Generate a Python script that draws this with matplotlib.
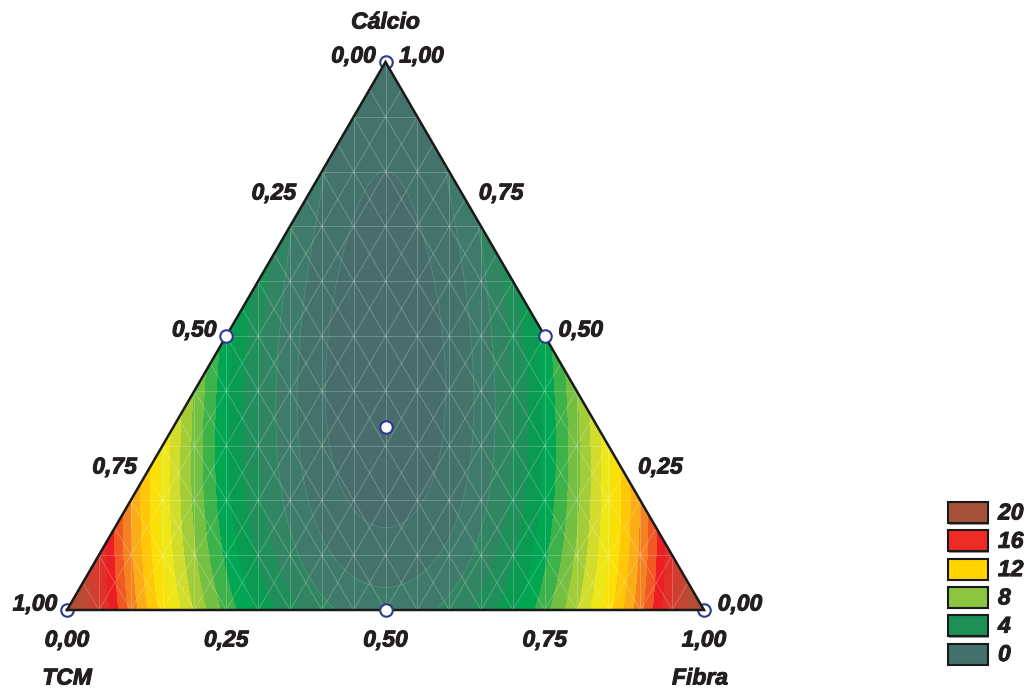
import matplotlib
matplotlib.use("Agg")
import matplotlib.pyplot as plt
import matplotlib.patheffects as pe
import matplotlib.tri as mtri
import numpy as np
from matplotlib.colors import LinearSegmentedColormap, Normalize
from matplotlib.patches import Rectangle

# mixture design (fractions) and observed response
tcm = [1.0, 0.0, 0.0, 0.5, 0.5, 0.0, 1 / 3]
fibra = [0.0, 1.0, 0.0, 0.5, 0.0, 0.5, 1 / 3]
calcio = [0.0, 0.0, 1.0, 0.0, 0.5, 0.5, 1 / 3]
resp = [22.0, 22.0, 0.5, 1.5, 5.5, 5.5, -0.8]

tick_vals = [0.0, 0.25, 0.5, 0.75, 1.0]
tick_text = ["0,00", "0,25", "0,50", "0,75", "1,00"]
legend_vals = [20, 16, 12, 8, 4, 0]
legend_cols = ["#a5523b", "#ee2b25", "#ffd400", "#8cc63f", "#1e8f55", "#43706a"]

# colour ramp for the filled contours (value -> colour)
ramp_vals = [-1.5, 0, 1.5, 3, 4.5, 5.5, 7, 8, 9.5, 11, 12, 13.5, 14.5, 15.5, 16.5, 18, 20, 22.5]
ramp_cols = ["#486c6f", "#466f6c", "#3f7b6a", "#2a8a5e", "#0a9a52", "#00a651",
             "#5bb848", "#8cc63f", "#d2dc2c", "#f8ec10", "#ffd400", "#fbb016",
             "#f58220", "#f15a24", "#ed1c24", "#d83a2c", "#b84a35", "#a5523b"]

H = np.sqrt(3) / 2


def to_xy(x2, x3):
    x2 = np.asarray(x2, dtype=float)
    x3 = np.asarray(x3, dtype=float)
    return x2 + x3 / 2, x3 * H


def design(a, b, c):
    a, b, c = (np.asarray(v, dtype=float) for v in (a, b, c))
    return np.column_stack([a, b, c, a * b, a * c, b * c, a * b * c])


def main() -> None:
    # special cubic Scheffe model fitted to the design points
    coef, *_ = np.linalg.lstsq(design(tcm, fibra, calcio), np.array(resp), rcond=None)

    n = 120
    ii, jj = np.meshgrid(np.arange(n + 1), np.arange(n + 1))
    keep = ii + jj <= n
    g2 = ii[keep] / n
    g3 = jj[keep] / n
    g1 = np.clip(1 - g2 - g3, 0, 1)
    z = design(g1, g2, g3) @ coef
    gx, gy = to_xy(g2, g3)
    tri = mtri.Triangulation(gx, gy)

    fig = plt.figure(figsize=(10.29, 6.88), dpi=100)
    ax = fig.add_axes([0, 0, 1, 1])
    sx = 637.0
    sy = 548.0 / H
    ax.set_xlim(-67 / sx, (1029 - 67) / sx)
    ax.set_ylim(-(688 - 610) / sy, 610 / sy)
    ax.axis("off")

    lo, hi = ramp_vals[0], ramp_vals[-1]
    pos = [(v - lo) / (hi - lo) for v in ramp_vals]
    cmap = LinearSegmentedColormap.from_list("mix", list(zip(pos, ramp_cols)))
    levels = np.arange(-2.0, 24.0, 1.0)
    ax.tricontourf(tri, z, levels=levels, cmap=cmap, norm=Normalize(lo, hi),
                   extend="both", zorder=2)
    ax.tricontour(tri, z, levels=levels[levels < 3], colors="white",
                  linewidths=0.5, alpha=0.15, zorder=2.5)

    # faint mesh lines
    gl = dict(color="white", lw=0.6, alpha=0.26, zorder=3)
    for c in np.arange(0.1, 1.0, 0.1):
        ax.plot([c / 2, 1 - c / 2], [c * H, c * H], **gl)
    for d in np.arange(0.05, 1.0, 0.05):
        xs, ys = to_xy([1 - d, 0], [0, 1 - d])
        ax.plot(xs, ys, **gl)
        xs, ys = to_xy([d, d], [0, 1 - d])
        ax.plot(xs, ys, **gl)
        ax.plot([d, d], [0, H * min(2 * d, 2 * (1 - d))], **gl)

    # triangle outline
    vx, vy = to_xy([0, 1, 0, 0], [0, 0, 1, 0])
    ax.plot(vx, vy, color="#1a1a1a", lw=1.8, zorder=4, solid_joinstyle="miter")

    # design points
    px, py = to_xy(fibra, calcio)
    corner = np.array([max(a, b, c) == 1.0 for a, b, c in zip(tcm, fibra, calcio)])
    mk = dict(marker="o", ms=9, mfc="white", mec="#2b3990", mew=1.5, ls="none")
    ax.plot(px[corner], py[corner], zorder=1.5, **mk)
    ax.plot(px[~corner], py[~corner], zorder=5, **mk)

    heavy = [pe.withStroke(linewidth=0.7, foreground="#231f20")]
    font = dict(family=["Liberation Sans", "DejaVu Sans"], fontsize=16.5,
                fontweight="bold", fontstyle="italic", color="#231f20",
                ha="center", va="center", textcoords="offset pixels",
                path_effects=heavy)

    for v, s in zip(tick_vals, tick_text):
        # left axis: TCM
        ax.annotate(s, to_xy(0, 1 - v), xytext=(-32, 6), **font)
        # right axis: Calcio
        ax.annotate(s, to_xy(1 - v, v), xytext=(36, 6), **font)
        # bottom axis: Fibra
        ax.annotate(s, to_xy(v, 0), xytext=(0, -30), **font)

    ax.annotate("Cálcio", to_xy(0, 1), xytext=(0, 40), **font)
    ax.annotate("TCM", to_xy(0, 0), xytext=(0, -68), **font)
    ax.annotate("Fibra", to_xy(1, 0), xytext=(-4, -68), **font)

    # legend in pixel space
    lax = fig.add_axes([0, 0, 1, 1])
    lax.set_xlim(0, 1029)
    lax.set_ylim(688, 0)
    lax.axis("off")
    lax.patch.set_alpha(0)
    for i, (v, c) in enumerate(zip(legend_vals, legend_cols)):
        y0 = 502 + 28.3 * i
        lax.add_patch(Rectangle((949, y0 + 1.5), 40, 21, fc="#9a9a9a", ec="none"))
        lax.add_patch(Rectangle((947.5, y0), 40, 21, fc=c, ec="#1a1a1a", lw=1.5))
        lax.text(998, y0 + 11, str(v), family=["Liberation Sans", "DejaVu Sans"],
                 fontsize=16.5, fontweight="bold", fontstyle="italic",
                 color="#231f20", ha="left", va="center", path_effects=heavy)

    fig.savefig("out.png", dpi=100)


if __name__ == "__main__":
    main()
